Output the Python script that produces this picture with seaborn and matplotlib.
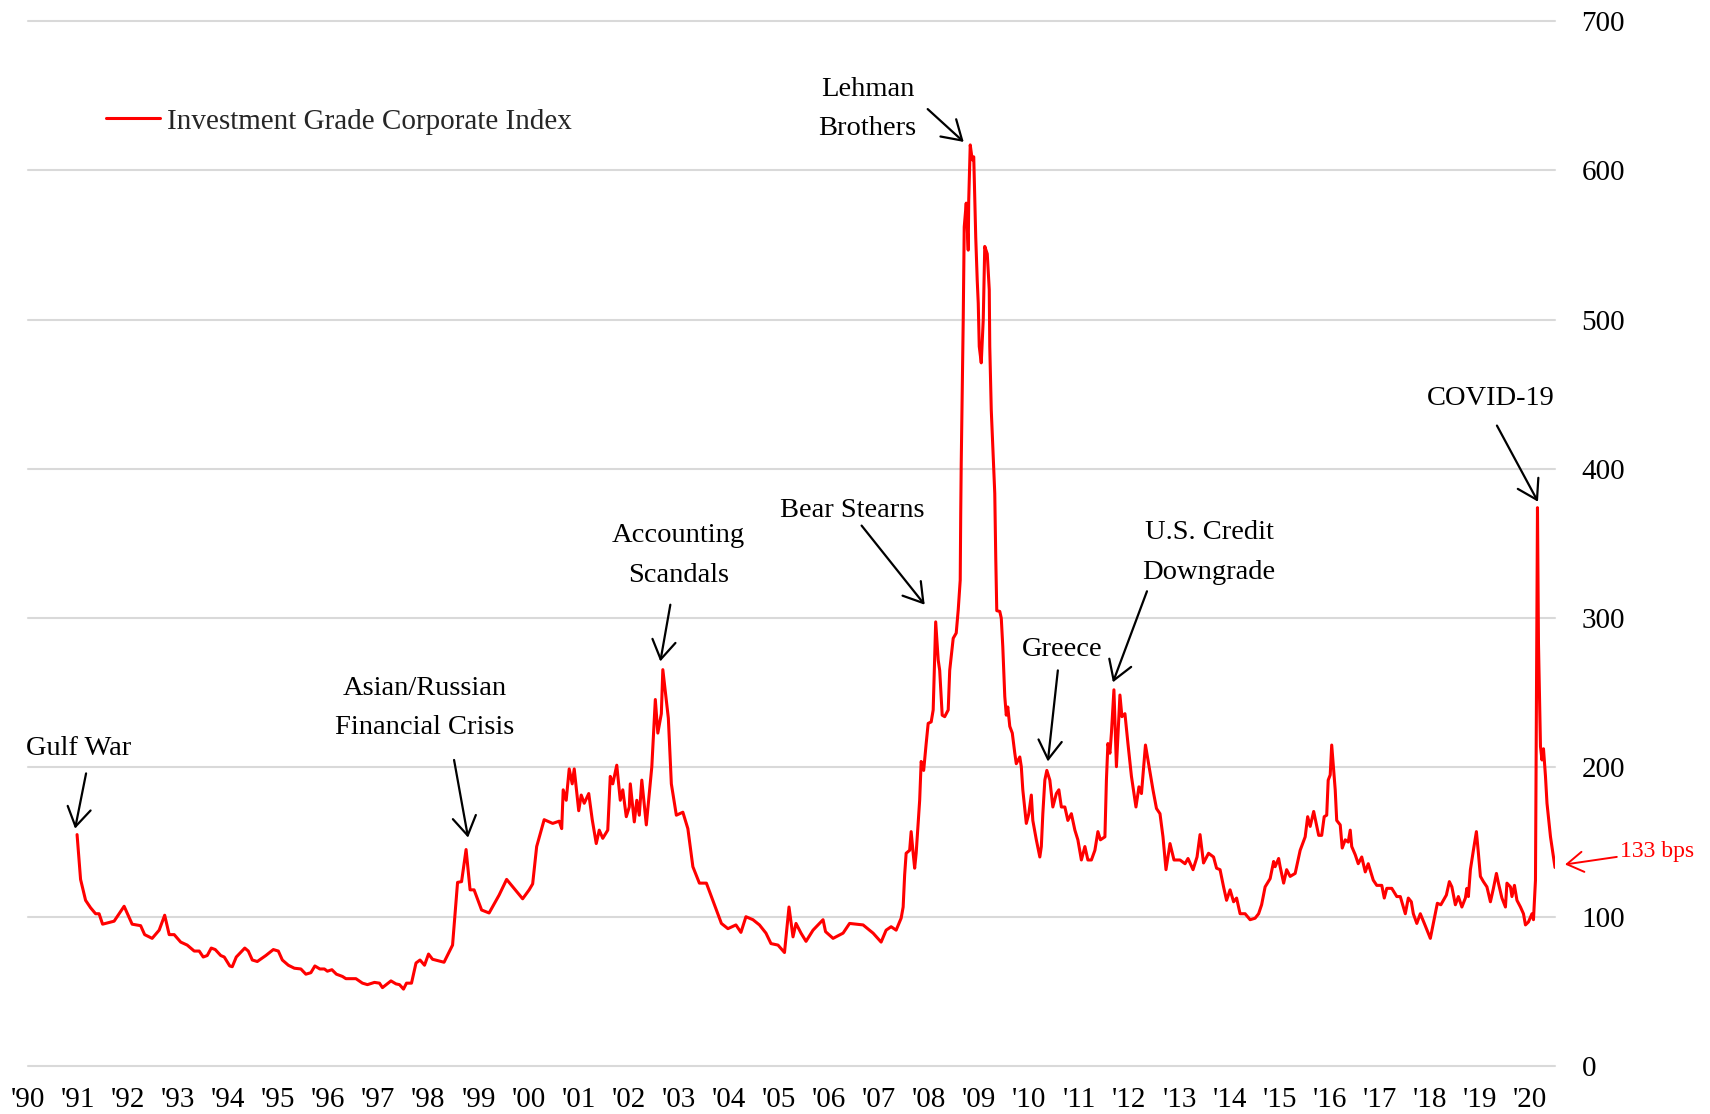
import numpy as np
import matplotlib
matplotlib.use("Agg")
import matplotlib.pyplot as plt
import seaborn as sns

# --- data (decimal year, spread in bps) ---
years = [
    1990.98, 1991.05, 1991.15, 1991.25, 1991.35, 1991.42, 1991.49, 1991.72, 1991.92, 1992.08,
    1992.25, 1992.33, 1992.48, 1992.62, 1992.73, 1992.82, 1992.92, 1993.05, 1993.18, 1993.32,
    1993.42, 1993.50, 1993.58, 1993.66, 1993.74, 1993.85, 1993.92, 1994.03, 1994.08, 1994.16,
    1994.33, 1994.40, 1994.48, 1994.58, 1994.75, 1994.90, 1995.00, 1995.08, 1995.20, 1995.32,
    1995.45, 1995.55, 1995.65, 1995.73, 1995.83, 1995.92, 1995.98, 1996.07, 1996.16, 1996.28,
    1996.35, 1996.55, 1996.68, 1996.78, 1996.92, 1997.02, 1997.08, 1997.25, 1997.35, 1997.42,
    1997.50, 1997.56, 1997.66, 1997.75, 1997.83, 1997.92, 1998.00, 1998.08, 1998.31, 1998.48,
    1998.58, 1998.66, 1998.75, 1998.83, 1998.91, 1999.06, 1999.21, 1999.41, 1999.56, 1999.88,
    2000.01, 2000.08, 2000.16, 2000.31, 2000.48, 2000.61, 2000.66, 2000.69, 2000.75, 2000.81,
    2000.87, 2000.91, 2001.00, 2001.05, 2001.11, 2001.20, 2001.27, 2001.35, 2001.41, 2001.48,
    2001.58, 2001.63, 2001.68, 2001.76, 2001.83, 2001.88, 2001.95, 2002.01, 2002.03, 2002.11,
    2002.16, 2002.21, 2002.26, 2002.35, 2002.46, 2002.53, 2002.58, 2002.65, 2002.68, 2002.75,
    2002.79, 2002.85, 2002.95, 2003.08, 2003.18, 2003.28, 2003.41, 2003.55, 2003.71, 2003.85,
    2003.98, 2004.14, 2004.24, 2004.34, 2004.48, 2004.61, 2004.74, 2004.84, 2004.98, 2005.11,
    2005.20, 2005.28, 2005.34, 2005.44, 2005.54, 2005.68, 2005.88, 2005.93, 2006.08, 2006.28,
    2006.41, 2006.68, 2006.88, 2007.04, 2007.14, 2007.24, 2007.34, 2007.44, 2007.48, 2007.51,
    2007.54, 2007.61, 2007.64, 2007.68, 2007.71, 2007.74, 2007.81, 2007.84, 2007.89, 2007.94,
    2007.98, 2008.04, 2008.08, 2008.13, 2008.18, 2008.21, 2008.26, 2008.31, 2008.38, 2008.41,
    2008.48, 2008.54, 2008.58, 2008.62, 2008.63, 2008.64, 2008.68, 2008.70, 2008.74, 2008.78,
    2008.79, 2008.82, 2008.86, 2008.89, 2008.93, 2008.96, 2008.98, 2009.00, 2009.04, 2009.08,
    2009.11, 2009.16, 2009.20, 2009.21, 2009.24, 2009.28, 2009.31, 2009.33, 2009.35, 2009.41,
    2009.44, 2009.47, 2009.51, 2009.54, 2009.57, 2009.61, 2009.66, 2009.71, 2009.74, 2009.81,
    2009.84, 2009.87, 2009.94, 2009.99, 2010.04, 2010.07, 2010.14, 2010.21, 2010.24, 2010.27,
    2010.31, 2010.35, 2010.41, 2010.47, 2010.54, 2010.59, 2010.64, 2010.71, 2010.77, 2010.84,
    2010.91, 2010.97, 2011.04, 2011.11, 2011.17, 2011.24, 2011.31, 2011.37, 2011.42, 2011.51,
    2011.54, 2011.57, 2011.61, 2011.64, 2011.69, 2011.74, 2011.81, 2011.85, 2011.91, 2011.97,
    2012.04, 2012.13, 2012.19, 2012.24, 2012.32, 2012.37, 2012.47, 2012.54, 2012.61, 2012.67,
    2012.73, 2012.81, 2012.89, 2013.01, 2013.11, 2013.17, 2013.27, 2013.35, 2013.41, 2013.48,
    2013.58, 2013.68, 2013.74, 2013.81, 2013.88, 2013.94, 2014.01, 2014.08, 2014.14, 2014.21,
    2014.31, 2014.41, 2014.51, 2014.58, 2014.64, 2014.71, 2014.81, 2014.88, 2014.91, 2014.98,
    2015.01, 2015.08, 2015.14, 2015.21, 2015.31, 2015.41, 2015.51, 2015.56, 2015.61, 2015.68,
    2015.78, 2015.84, 2015.89, 2015.94, 2015.97, 2016.01, 2016.04, 2016.07, 2016.11, 2016.14,
    2016.21, 2016.25, 2016.31, 2016.37, 2016.41, 2016.44, 2016.51, 2016.57, 2016.64, 2016.71,
    2016.77, 2016.87, 2016.94, 2017.04, 2017.09, 2017.14, 2017.24, 2017.34, 2017.41, 2017.51,
    2017.57, 2017.63, 2017.67, 2017.74, 2017.81, 2017.89, 2018.01, 2018.07, 2018.15, 2018.22,
    2018.27, 2018.33, 2018.39, 2018.44, 2018.51, 2018.57, 2018.64, 2018.71, 2018.74, 2018.77,
    2018.81, 2018.87, 2018.93, 2018.97, 2019.01, 2019.07, 2019.14, 2019.21, 2019.27, 2019.33,
    2019.37, 2019.44, 2019.51, 2019.54, 2019.61, 2019.64, 2019.69, 2019.74, 2019.81, 2019.87,
    2019.91, 2019.97, 2020.04, 2020.07, 2020.11, 2020.15, 2020.17, 2020.21, 2020.24, 2020.27,
    2020.31, 2020.34, 2020.41, 2020.50,
]
spread_bps = [
    155, 125, 111, 106, 102, 102, 95, 97, 107, 95,
    94, 88, 85.5, 91, 101, 88, 88, 83, 81, 77,
    77, 73, 74, 79, 78, 74, 73, 67, 66.5, 73,
    79, 77, 71, 70, 74, 78, 77, 71, 67.5, 65.5,
    65, 61.5, 62.5, 67, 65, 65, 63.5, 64.5, 61.5, 60,
    58.5, 58.5, 55.5, 54.5, 56, 55.5, 52.5, 57, 55, 54.5,
    51.5, 55.5, 55.5, 69, 71, 67.5, 75, 71.5, 69.5, 81,
    123, 123.5, 145, 118, 118, 104.5, 102.5, 114.5, 125, 112,
    118, 122, 147, 165, 162.5, 164, 159, 185, 178, 199,
    189, 199, 171, 181.5, 176, 182.5, 165, 149, 158, 152.5,
    158, 194, 189, 201.5, 178, 185, 167, 173.5, 189, 163.5,
    178, 168, 191.5, 161.5, 200.5, 245.5, 223, 236, 265.5, 245,
    233, 189, 168, 170, 159, 133.5, 122.5, 122.5, 108, 95.5,
    92, 94.5, 89.5, 100, 98, 94.5, 89, 82, 81, 76,
    106.5, 86.5, 95.5, 89, 83.5, 91, 98, 90, 85.5, 89,
    95.5, 94.5, 89, 83, 91, 93.3, 91, 99, 106.5, 128,
    142.5, 144.5, 157, 142.5, 132.5, 142.5, 178, 204, 198, 216,
    229.5, 230.5, 238.5, 297.5, 272, 265, 235, 234, 238.5, 265,
    286.5, 290, 305.5, 325.5, 370, 403.5, 500, 562, 578, 546.5,
    580, 617, 607, 609, 555, 526, 511, 482, 471, 500,
    549, 544, 520, 482, 439.5, 408, 383.5, 340, 305, 304.5,
    300, 281, 247.5, 235, 240.5, 227.5, 223, 209.5, 202.5, 207,
    200.5, 185, 162.5, 169, 181.5, 164.5, 151.5, 140, 147, 169,
    191.5, 198, 191.5, 173.5, 182.5, 185, 173.5, 173.5, 164.5, 169,
    158, 151.5, 138, 147, 138, 138, 144.5, 157, 151.5, 153.5,
    191.5, 216, 209.5, 223, 252, 200.5, 248.5, 234, 236, 216,
    194, 173.5, 187, 182.5, 215, 205, 185, 172.5, 169, 153.5,
    131.5, 149, 138, 138, 135.5, 139, 131.5, 140, 155, 136,
    142.5, 140, 132.5, 131.5, 120, 111, 118, 110, 112.5, 102,
    102, 98, 99, 102, 108, 120, 125.5, 137, 133.5, 139,
    133.5, 122.5, 131.5, 127, 129, 144.5, 153.5, 167, 160.5, 170.5,
    154.5, 154.5, 167, 168, 191.5, 195, 215, 202.5, 185, 164.5,
    161.5, 146, 151.5, 150, 158, 147, 141.5, 135.5, 140, 130,
    135.5, 124.5, 121, 121, 112.5, 119, 119, 113.5, 113.5, 102,
    112.5, 110, 102, 95.5, 102, 95.5, 85.5, 95.5, 109, 108,
    111, 114.5, 123.5, 120, 108, 113.5, 106.5, 112.5, 119, 113.5,
    131.5, 144.5, 157, 142.5, 127, 123.5, 120, 110, 119, 129,
    122.5, 112.5, 106.5, 122.5, 120, 113.5, 121, 111, 106.5, 102,
    94.5, 96.5, 102, 98, 124.5, 374, 283, 214, 205, 212.5,
    194, 176, 153.5, 133,
]

tick_years = list(range(1990, 2021))
tick_labels = ["'%02d" % (y % 100) for y in tick_years]
y_ticks = list(range(0, 701, 100))

# events: label, arrow tip (year, bps), arrow tail (year, bps), text centre (year, bps)
event_labels = ["Gulf War", "Asian/Russian\nFinancial Crisis", "Accounting\nScandals",
                "Bear Stearns", "Lehman\nBrothers", "Greece", "U.S. Credit\nDowngrade", "COVID-19"]
event_tips = [(1990.94, 159), (1998.79, 153), (2002.63, 271), (2007.91, 309),
              (2008.69, 619), (2010.37, 204), (2011.67, 257), (2020.16, 378)]
event_tails = [(1991.16, 196), (1998.51, 205), (2002.83, 309), (2006.65, 362),
               (2007.97, 641), (2010.57, 265), (2012.35, 318), (2019.34, 429)]
event_text = [(1991.02, 213), (1997.92, 240), (2002.99, 342), (2006.47, 372),
              (2006.77, 641), (2010.65, 279), (2013.59, 344), (2019.22, 447)]

# --- plot ---
sns.set_theme(style="white")
plt.rcParams['font.family'] = ['Liberation Serif', 'DejaVu Serif']

fig = plt.figure(figsize=(17.1, 11.14), dpi=100)
ax = fig.add_axes([28 / 1710, 48 / 1114, 1527 / 1710, 1045 / 1114])

sns.lineplot(x=years, y=spread_bps, ax=ax, color='#ff0000', lw=2.2,
             estimator=None, label='Investment Grade Corporate Index')

ax.set_xlim(1990, 2020.5)
ax.set_ylim(0, 700)
ax.set_xticks(tick_years)
ax.set_xticklabels(tick_labels)
ax.yaxis.tick_right()
ax.set_yticks(y_ticks)
ax.tick_params(axis='x', length=0, pad=15, labelsize=21, colors='black')
ax.tick_params(axis='y', length=0, pad=19, labelsize=21, colors='black')
ax.grid(axis='y', color='#d9d9d9', lw=1.5)
ax.grid(axis='x', visible=False)
ax.set_axisbelow(True)
for gl in ax.get_ygridlines():
    gl.set_clip_on(False)
for s in ax.spines.values():
    s.set_visible(False)
ax.set_xlabel('')
ax.set_ylabel('')

arrow_kw = dict(arrowstyle='->, head_length=0.45, head_width=0.28', lw=1.6,
                color='black', mutation_scale=30, shrinkA=0, shrinkB=0)
for lab, tip, tail, txt in zip(event_labels, event_tips, event_tails, event_text):
    ax.text(txt[0], txt[1], lab, ha='center', va='center', fontsize=20.5,
            linespacing=1.75, color='black')
    ax.annotate('', xy=tip, xytext=tail, arrowprops=arrow_kw, annotation_clip=False)

# latest value callout
ax.annotate('133 bps', xy=(2020.70, 135), xytext=(2021.8, 144), color='#ff0000',
            fontsize=17, ha='left', va='center', annotation_clip=False,
            arrowprops=dict(arrowstyle='->, head_length=0.45, head_width=0.28', lw=1.4,
                            color='#ff0000', mutation_scale=26, shrinkA=0, shrinkB=0))

leg = ax.legend(loc='center left', bbox_to_anchor=(0.051, 0.904), frameon=False,
                fontsize=21, handlelength=1.85, handletextpad=0.25,
                borderpad=0, borderaxespad=0)
for h in leg.get_lines():
    h.set_linewidth(2.2)

fig.savefig('out.png', dpi=100)
